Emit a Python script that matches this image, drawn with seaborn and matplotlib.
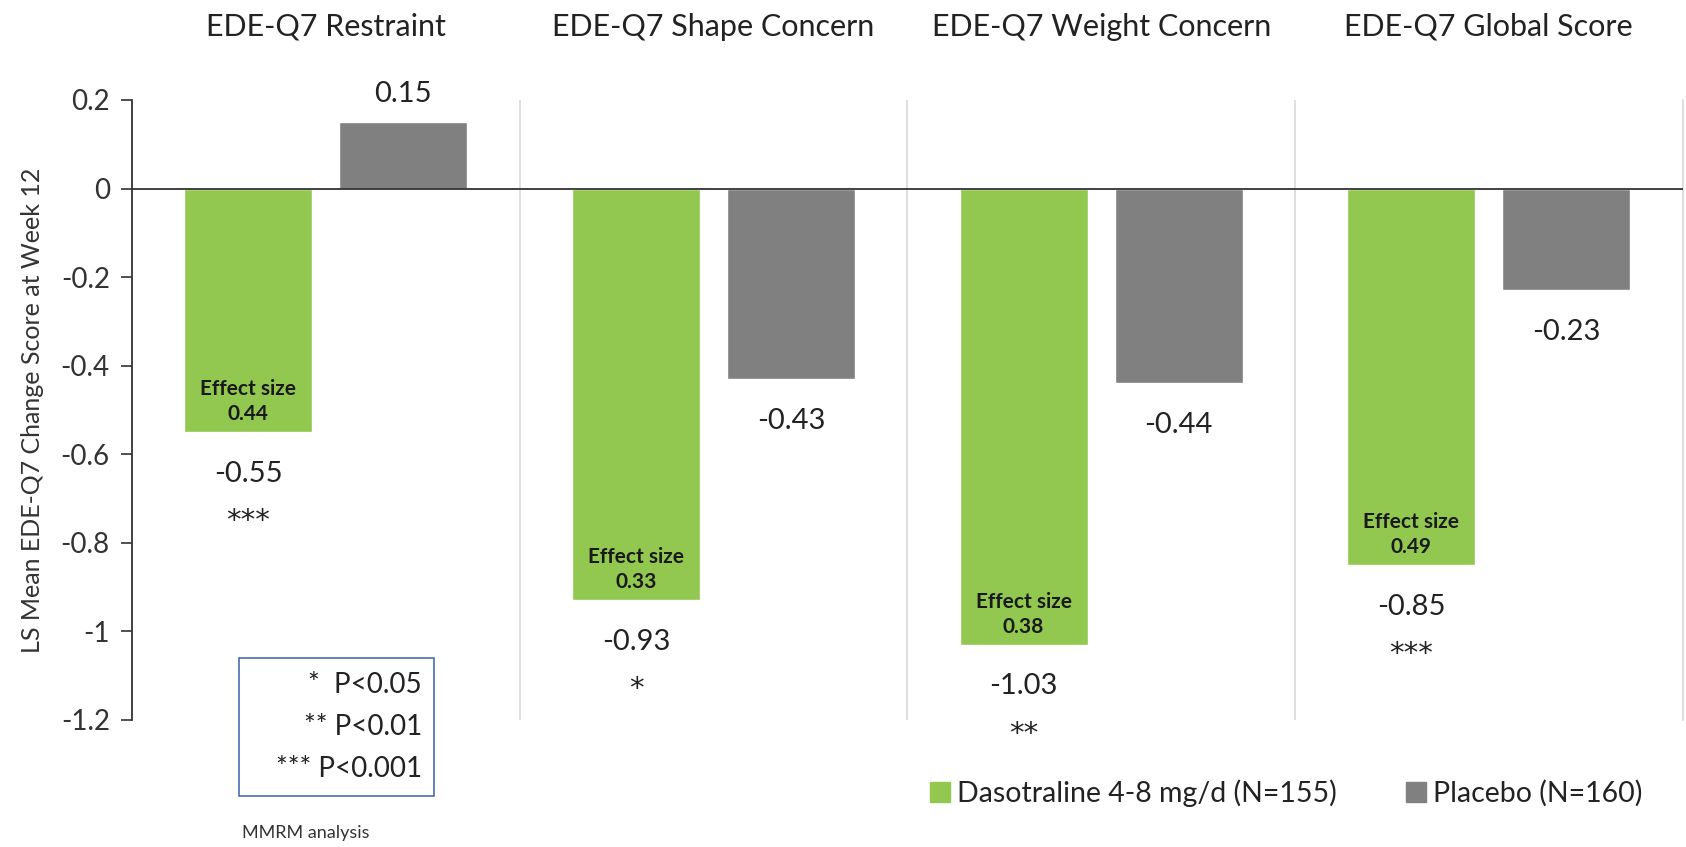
import matplotlib
matplotlib.use("Agg")
import matplotlib.pyplot as plt
import seaborn as sns
import pandas as pd
from matplotlib.patches import Rectangle
from matplotlib.lines import Line2D

measures = ["EDE-Q7 Restraint", "EDE-Q7 Shape Concern", "EDE-Q7 Weight Concern", "EDE-Q7 Global Score"]
groups = ["Dasotraline 4-8 mg/d (N=155)", "Placebo (N=160)"]
dasotraline = [-0.55, -0.93, -1.03, -0.85]
placebo = [0.15, -0.43, -0.44, -0.23]
effect_sizes = ["0.44", "0.33", "0.38", "0.49"]
stars = ["***", "*", "**", "***"]
yticks = [0.2, 0, -0.2, -0.4, -0.6, -0.8, -1, -1.2]
ytick_labels = ["0.2", "0", "-0.2", "-0.4", "-0.6", "-0.8", "-1", "-1.2"]
pvalue_lines = ["*  P<0.05", "** P<0.01", "*** P<0.001"]

GREEN = "#92C850"
GREY = "#808080"
FONT = ["Lato", "DejaVu Sans"]

sns.set_theme(style="white")
plt.rcParams["font.family"] = FONT
plt.rcParams["text.color"] = "#222222"

df = pd.DataFrame({
    "measure": measures * 2,
    "group": [groups[0]] * 4 + [groups[1]] * 4,
    "value": dasotraline + placebo,
})

fig = plt.figure(figsize=(16.86, 8.47), dpi=100)
ax = fig.add_axes([0.0783, 0.150, 0.9197, 0.732])

sns.barplot(data=df, x="measure", y="value", hue="group", order=measures,
            hue_order=groups, palette=[GREEN, GREY], width=0.8, gap=0.175,
            errorbar=None, ax=ax, legend=False, saturation=1)

ax.set_ylim(-1.2, 0.2)
ax.set_xlim(-0.5, 3.5)
ax.set_yticks(yticks)
ax.set_yticklabels(ytick_labels, fontsize=20, color="#333333")
ax.tick_params(axis="y", direction="out", length=8, width=1.2, color="#333333", left=True, pad=8)
ax.tick_params(axis="x", bottom=False, labelbottom=False)
ax.set_xlabel("")
ax.set_ylabel("LS Mean EDE-Q7 Change Score at Week 12", fontsize=18, color="#333333", labelpad=12)

for s in ["top", "bottom"]:
    ax.spines[s].set_visible(False)
ax.spines["left"].set_color("#333333")
ax.spines["left"].set_linewidth(1.3)
ax.spines["right"].set_color("#d9d9d9")
ax.spines["right"].set_linewidth(1.2)

for xb in [0.5, 1.5, 2.5]:
    ax.axvline(xb, color="#d9d9d9", lw=1.2, zorder=0)
ax.axhline(0, color="#333333", lw=1.3, zorder=3)

for i, m in enumerate(measures):
    ax.text(i, 1.118, m, transform=ax.get_xaxis_transform(), ha="center", va="center",
            fontsize=22, color="#222222")

xg = [i - 0.2 for i in range(4)]
xp = [i + 0.2 for i in range(4)]
for i in range(4):
    v = dasotraline[i]
    ax.annotate(f"{v:.2f}", (xg[i], v), xytext=(0, -30), textcoords="offset points",
                ha="center", va="center", fontsize=21, annotation_clip=False)
    ax.annotate(stars[i], (xg[i], v), xytext=(0, -64), textcoords="offset points",
                ha="center", va="center", fontsize=21, family="DejaVu Sans",
                annotation_clip=False)
    ax.annotate("Effect size", (xg[i], v), xytext=(0, 31), textcoords="offset points",
                ha="center", va="center", fontsize=15, fontweight="bold", color="#1a1a1a")
    ax.annotate(effect_sizes[i], (xg[i], v), xytext=(0, 13), textcoords="offset points",
                ha="center", va="center", fontsize=15, fontweight="bold", color="#1a1a1a")
    p = placebo[i]
    off = 20 if p > 0 else -30
    ax.annotate(f"{p:.2f}", (xp[i], p), xytext=(0, off), textcoords="offset points",
                ha="center", va="center", fontsize=21, annotation_clip=False)

# p-value box
bx0, by0, bw, bh = 239 / 1686, 1 - 796 / 847, 195 / 1686, 138 / 847
fig.patches.append(Rectangle((bx0, by0), bw, bh, transform=fig.transFigure,
                             fill=False, edgecolor="#4a6db0", lw=1.2))
for k, line in enumerate(pvalue_lines):
    fig.text(bx0 + bw - 12 / 1686, 1 - (685 + k * 42) / 847, line, ha="right", va="center",
             fontsize=20, color="#222222")
fig.text(306 / 1686, 1 - 833 / 847, "MMRM analysis", ha="center", va="center",
         fontsize=13, color="#333333")

handles = [Line2D([], [], marker="s", ls="", markersize=15, color=GREEN),
           Line2D([], [], marker="s", ls="", markersize=15, color=GREY)]
fig.legend(handles, groups, loc="center", bbox_to_anchor=(1284 / 1686, 1 - 793 / 847),
           ncol=2, frameon=False, fontsize=20.5, handletextpad=0.1, columnspacing=2.3,
           handlelength=1.0)

fig.savefig("out.png", dpi=100)
